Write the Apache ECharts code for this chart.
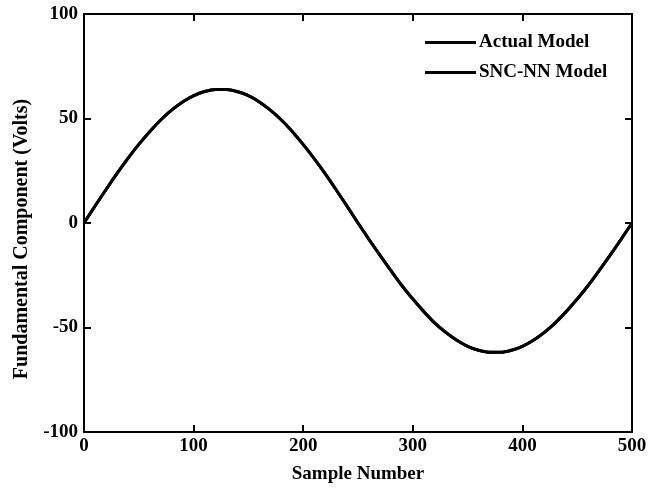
<!DOCTYPE html>
<html>
<head>
<meta charset="utf-8">
<script src="https://cdn.jsdelivr.net/npm/echarts@6/dist/echarts.min.js"></script>
<style>
  html, body { margin: 0; padding: 0; background: #fff; }
  #chart { width: 663px; height: 493px; }
</style>
</head>
<body>
<div id="chart"></div>
<script>
// samples, every 10 samples
var samples = [0, 10, 20, 30, 40, 50, 60, 70, 80, 90, 100, 110, 120, 130, 140, 150, 160, 170, 180, 190, 200, 210, 220, 230, 240, 250,
  260, 270, 280, 290, 300, 310, 320, 330, 340, 350, 360, 370, 380, 390, 400, 410, 420, 430, 440, 450, 460, 470, 480, 490, 500]
var actualModel = [0, 8.0, 15.9, 23.6, 30.8, 37.6, 43.8, 49.3, 54.0, 57.9, 60.9, 62.9, 63.9, 63.9, 62.9, 60.9, 57.9, 54.0, 49.3, 43.8, 37.6, 30.8, 23.6, 15.9, 8.0, 0,
  -7.8, -15.4, -22.8, -29.9, -36.4, -42.4, -47.8, -52.3, -56.1, -59.0, -60.9, -61.9, -61.9, -60.9, -59.0, -56.1, -52.3, -47.8, -42.4, -36.4, -29.9, -22.8, -15.4, -7.8, 0]
var sncNNModel = [0, 8.1, 15.9, 23.6, 30.9, 37.6, 43.7, 49.3, 54.1, 57.9, 60.8, 62.9, 63.9, 63.9, 62.8, 60.9, 57.9, 54.0, 49.4, 43.8, 37.5, 30.8, 23.6, 15.9, 8.1, 0,
  -7.8, -15.4, -22.7, -29.9, -36.4, -42.3, -47.9, -52.3, -56.0, -59.0, -60.9, -61.8, -61.9, -60.9, -59.0, -56.1, -52.4, -47.8, -42.3, -36.4, -29.9, -22.8, -15.5, -7.8, 0]
var xTicks = [0, 100, 200, 300, 400, 500]
var yTicks = [-100, -50, 0, 50, 100]

var fontFam = '"Liberation Serif", "DejaVu Serif", serif'

function pairs(xs, ys) {
  var out = []
  for (var i = 0; i < xs.length; i++) {
    out.push([xs[i], ys[i]])
  }
  return out
}

function boxAxis(pos, ticks) {
  // mirrored axis on top / right, ticks only
  return {
    type: 'value',
    position: pos,
    min: ticks[0],
    max: ticks[ticks.length - 1],
    interval: ticks[1] - ticks[0],
    axisLine: { show: true, onZero: false, lineStyle: { color: '#000', width: 2 } },
    axisTick: { show: true, inside: true, length: 7, lineStyle: { color: '#000', width: 2 } },
    axisLabel: { show: false },
    splitLine: { show: false }
  }
}

var chart = echarts.init(document.getElementById('chart'))

var option = {
  animation: false,
  backgroundColor: '#fff',
  grid: {
    left: 84,
    top: 14,
    right: 31,
    bottom: 61
  },
  legend: {
    orient: 'vertical',
    left: 425,
    top: 33,
    padding: 0,
    icon: 'rect',
    itemWidth: 51,
    itemHeight: 3,
    itemGap: 11,
    textStyle: {
      fontFamily: fontFam,
      fontWeight: 'bold',
      fontSize: 19,
      color: '#000',
      padding: [0, 0, 0, -2]
    },
    data: ['Actual Model', 'SNC-NN Model']
  },
  xAxis: [{
    type: 'value',
    min: xTicks[0],
    max: xTicks[xTicks.length - 1],
    interval: 100,
    name: 'Sample Number',
    nameLocation: 'middle',
    nameGap: 33,
    nameTextStyle: {
      fontFamily: fontFam,
      fontWeight: 'bold',
      fontSize: 19,
      color: '#000'
    },
    axisLine: { show: true, onZero: false, lineStyle: { color: '#000', width: 2 } },
    axisTick: { show: true, inside: true, length: 7, lineStyle: { color: '#000', width: 2 } },
    axisLabel: {
      margin: 5,
      fontFamily: fontFam,
      fontWeight: 'bold',
      fontSize: 19,
      color: '#000'
    },
    splitLine: { show: false }
  }, boxAxis('top', xTicks)],
  yAxis: [{
    type: 'value',
    min: yTicks[0],
    max: yTicks[yTicks.length - 1],
    interval: 50,
    name: 'Fundamental Component (Volts)',
    nameLocation: 'middle',
    nameGap: 52,
    nameTextStyle: {
      fontFamily: fontFam,
      fontWeight: 'bold',
      fontSize: 20,
      color: '#000',
      padding: [0, 32, 0, 0]
    },
    axisLine: { show: true, onZero: false, lineStyle: { color: '#000', width: 2 } },
    axisTick: { show: true, inside: true, length: 7, lineStyle: { color: '#000', width: 2 } },
    axisLabel: {
      margin: 6,
      fontFamily: fontFam,
      fontWeight: 'bold',
      fontSize: 19,
      color: '#000'
    },
    splitLine: { show: false }
  }, boxAxis('right', yTicks)],
  series: [{
    name: 'Actual Model',
    type: 'line',
    smooth: 0.3,
    symbol: 'none',
    data: pairs(samples, actualModel),
    lineStyle: { color: '#000', width: 3 },
    itemStyle: { color: '#000' }
  }, {
    name: 'SNC-NN Model',
    type: 'line',
    smooth: 0.3,
    symbol: 'none',
    data: pairs(samples, sncNNModel),
    lineStyle: { color: '#000', width: 3 },
    itemStyle: { color: '#000' }
  }]
}

chart.setOption(option)
</script>
</body>
</html>
